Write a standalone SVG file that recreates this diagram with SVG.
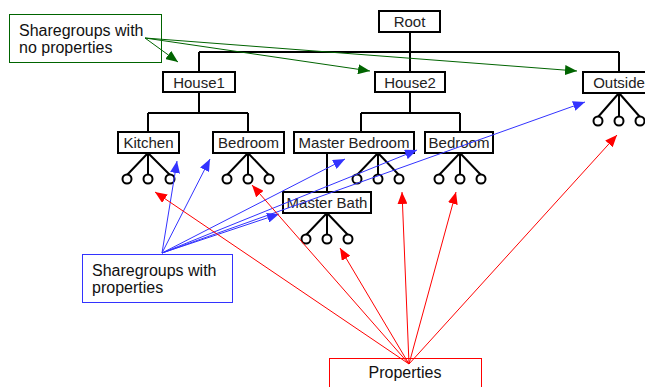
<svg xmlns="http://www.w3.org/2000/svg" width="645" height="387" viewBox="0 0 645 387">
<style>
.box{fill:#fff;stroke:#000;stroke-width:2}
.t{font-family:"Liberation Sans",Arial,sans-serif;font-size:15px;fill:#222;text-anchor:middle}
.tl{font-family:"Liberation Sans",Arial,sans-serif;font-size:16px;fill:#111}
.tree{stroke:#000;stroke-width:2;fill:none}
.leaf{fill:#fff;stroke:#000;stroke-width:2}
.g{stroke:#006400;stroke-width:1;fill:none}
.b{stroke:#3333ff;stroke-width:1;fill:none}
.r{stroke:#ff0000;stroke-width:1;fill:none}
</style>
<defs>
<marker id="ag" viewBox="0 0 12 10" refX="12" refY="5" markerWidth="12" markerHeight="10" markerUnits="userSpaceOnUse" orient="auto"><path d="M0,0L12,5L0,10z" fill="#006400"/></marker>
<marker id="ab" viewBox="0 0 12 10" refX="12" refY="5" markerWidth="12" markerHeight="10" markerUnits="userSpaceOnUse" orient="auto"><path d="M0,0L12,5L0,10z" fill="#3333ff"/></marker>
<marker id="ar" viewBox="0 0 12 10" refX="12" refY="5" markerWidth="12" markerHeight="10" markerUnits="userSpaceOnUse" orient="auto"><path d="M0,0L12,5L0,10z" fill="#ff0000"/></marker>
</defs>
<rect width="645" height="387" fill="#fff"/>

<g id="root"><rect class="box" x="379" y="11" width="61" height="21"/><text class="t" x="409.5" y="27">Root</text></g>
<g id="house1"><rect class="box" x="163" y="72" width="72" height="20"/><text class="t" x="199" y="87.5">House1</text></g>
<g id="house2"><rect class="box" x="375" y="72" width="70" height="20"/><text class="t" x="410" y="87.5">House2</text></g>
<g id="outside"><rect class="box" x="583" y="72" width="72" height="21"/><text class="t" x="619" y="88">Outside</text>
<path class="tree" d="M619,93L598,117M619,93V117M619,93L640,117"/><circle class="leaf" cx="598" cy="121" r="4.5"/><circle class="leaf" cx="619" cy="121" r="4.5"/><circle class="leaf" cx="640" cy="121" r="4.5"/></g>
<g id="kitchen"><rect class="box" x="118" y="132" width="61" height="21"/><text class="t" x="148.5" y="148">Kitchen</text>
<path class="tree" d="M148,153L127,175M148,153V175M148,153L170,175"/><circle class="leaf" cx="127" cy="179" r="4.5"/><circle class="leaf" cx="148" cy="179" r="4.5"/><circle class="leaf" cx="170" cy="179" r="4.5"/></g>
<g id="bedroom1"><rect class="box" x="213" y="132" width="71" height="21"/><text class="t" x="248.5" y="148">Bedroom</text>
<path class="tree" d="M248,153L227,175M248,153V175M248,153L269,175"/><circle class="leaf" cx="227" cy="179" r="4.5"/><circle class="leaf" cx="248" cy="179" r="4.5"/><circle class="leaf" cx="269" cy="179" r="4.5"/></g>
<g id="masterbedroom"><rect class="box" x="294" y="132" width="120" height="21"/><text class="t" x="354" y="148">Master Bedroom</text>
<path class="tree" d="M378,153L357,175M378,153V175M378,153L399,175"/><circle class="leaf" cx="357" cy="179" r="4.5"/><circle class="leaf" cx="378" cy="179" r="4.5"/><circle class="leaf" cx="399" cy="179" r="4.5"/></g>
<g id="bedroom2"><rect class="box" x="425" y="132" width="68" height="21"/><text class="t" x="459" y="148">Bedroom</text>
<path class="tree" d="M460,153L439,175M460,153V175M460,153L481,175"/><circle class="leaf" cx="439" cy="179" r="4.5"/><circle class="leaf" cx="460" cy="179" r="4.5"/><circle class="leaf" cx="481" cy="179" r="4.5"/></g>
<g id="masterbath"><rect class="box" x="283" y="192" width="88" height="21"/><text class="t" x="327" y="208">Master Bath</text>
<path class="tree" d="M327,213L306,235M327,213V235M327,213L348,235"/><circle class="leaf" cx="306" cy="239" r="4.5"/><circle class="leaf" cx="327" cy="239" r="4.5"/><circle class="leaf" cx="348" cy="239" r="4.5"/></g>

<g id="note-noprops"><rect x="9.5" y="14.5" width="152" height="48" fill="#fff" stroke="#006400" stroke-width="1"/><text class="tl" x="19" y="36">Sharegroups with</text><text class="tl" x="19" y="53">no properties</text></g>
<g id="note-props"><rect x="82.5" y="254.5" width="150" height="48" fill="#fff" stroke="#3333ff" stroke-width="1"/><text class="tl" x="92" y="276">Sharegroups with</text><text class="tl" x="92" y="293">properties</text></g>
<g id="note-properties"><rect x="329.5" y="358.5" width="152" height="40" fill="#fff" stroke="#ff0000" stroke-width="1"/><text class="tl" x="405" y="378" text-anchor="middle">Properties</text></g>

<g id="connectors">
<g class="tree">
<path d="M410,32V72M199,52H619M199,52V72M619,52V72"/>
<path d="M199,92V113M148,113H248M148,113V132M248,113V132"/>
<path d="M410,92V113M361,113H460M361,113V132M460,113V132"/>
<path d="M327,154V191"/>
</g>
<g class="g">
<path d="M145,38L178,62" marker-end="url(#ag)"/>
<path d="M145,38L370,71" marker-end="url(#ag)"/>
<path d="M145,38L577,71" marker-end="url(#ag)"/>
</g>
<g class="b">
<path d="M162,253L177,161" marker-end="url(#ab)"/>
<path d="M162,253L210,159" marker-end="url(#ab)"/>
<path d="M162,253L279,214" marker-end="url(#ab)"/>
<path d="M162,253L345,159" marker-end="url(#ab)"/>
<path d="M162,253L417,150" marker-end="url(#ab)"/>
<path d="M162,253L585,102" marker-end="url(#ab)"/>
</g>
<g class="r">
<path d="M409,364L155,192" marker-end="url(#ar)"/>
<path d="M409,364L252,185" marker-end="url(#ar)"/>
<path d="M409,364L340,248" marker-end="url(#ar)"/>
<path d="M409,364L402,192" marker-end="url(#ar)"/>
<path d="M409,364L456,192" marker-end="url(#ar)"/>
<path d="M409,364L617,135" marker-end="url(#ar)"/>
</g>
</g>
</svg>
